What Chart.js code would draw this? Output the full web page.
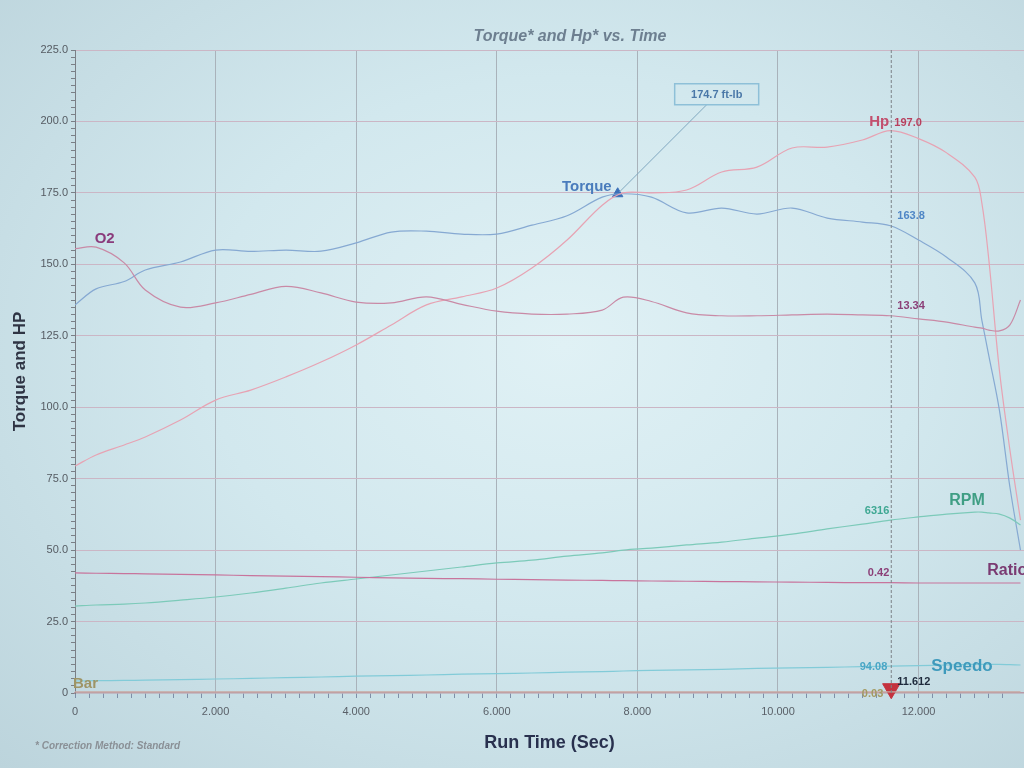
<!DOCTYPE html>
<html>
<head>
<meta charset="utf-8">
<title>Torque and Hp vs. Time</title>
<script src="https://cdn.jsdelivr.net/npm/chart.js@4.4.1/dist/chart.umd.min.js"></script>
<style>
    html, body { margin: 0; padding: 0; overflow: hidden; }
    body {
        width: 1024px;
        height: 768px;
        background: radial-gradient(ellipse at 55% 45%, #e0f1f5 0%, #d2e8ee 45%, #bcd4dc 100%);
    }
    canvas { display: block; }
</style>
</head>
<body>
<canvas id="dyno" width="1024" height="768"></canvas>
<script>
// run time (sec) shared by every trace
const timeSec = [0, 0.3, 0.7, 1.0, 1.5, 2.0, 2.5, 3.0, 3.5, 4.0, 4.5, 5.0, 5.5, 6.0, 6.5, 7.0, 7.5, 7.8,
    8.2, 8.7, 9.2, 9.7, 10.2, 10.7, 11.2, 11.6, 12.0, 12.4, 12.8, 12.9, 13.0, 13.15, 13.3, 13.45];

// traces in chart units (Torque and HP axis)
const torque = [135.8, 141.4, 144, 148, 150.8, 155, 154.5, 155, 154.6, 157.5, 161.3, 161.6, 160.6, 160.6, 163.7, 167, 173.5, 174.7,
    173.5, 168, 169.7, 167.6, 169.7, 166.2, 164.8, 163.5, 158.5, 152.5, 143.5, 130.5, 118, 99, 72, 50];
const hp = [79.4, 83.3, 86.8, 89.6, 95.5, 102.5, 106, 110.6, 115.8, 121.8, 128.8, 135.8, 138.6, 141.7, 148.7, 158.5, 170.7, 175,
    175, 176, 182.3, 184, 190.7, 191, 193.5, 196.8, 194, 189, 180.5, 171.5, 151.5, 113, 85, 60.5];
const o2 = [155.5, 156, 150.5, 141, 135, 136.5, 139.5, 142.3, 140, 136.8, 136.5, 138.6, 136, 133.6, 132.6, 132.6, 134, 138.5,
    137, 133, 132, 132, 132.3, 132.6, 132.3, 132, 130.9, 129.8, 128, 127.7, 127, 126.7, 128.8, 137.5];
const rpm = [30.4, 30.8, 31.1, 31.5, 32.5, 33.6, 35, 36.7, 38.5, 39.9, 41.3, 42.7, 44.1, 45.5, 46.5, 47.9, 49, 50,
    50.7, 51.8, 52.8, 54.2, 55.6, 57.4, 59.1, 60.5, 61.6, 62.6, 63.3, 63.3, 63, 62.6, 61.2, 58.8];
const ratio = [42.0, 41.9, 41.8, 41.7, 41.5, 41.3, 41.1, 40.9, 40.7, 40.5, 40.3, 40.1, 40.0, 39.8, 39.7, 39.5, 39.4, 39.3,
    39.2, 39.1, 39.0, 38.9, 38.8, 38.7, 38.6, 38.6, 38.5, 38.5, 38.5, 38.5, 38.5, 38.5, 38.5, 38.5];
const speedo = [4.2, 4.3, 4.4, 4.5, 4.7, 4.9, 5.1, 5.4, 5.6, 5.9, 6.1, 6.3, 6.6, 6.8, 7.0, 7.3, 7.5, 7.7,
    7.9, 8.1, 8.3, 8.6, 8.8, 9.0, 9.2, 9.4, 9.6, 9.8, 10, 10, 10, 10, 9.9, 9.8];
const bar = [0.4, 0.4, 0.4, 0.4, 0.4, 0.4, 0.4, 0.4, 0.4, 0.4, 0.4, 0.4, 0.4, 0.4, 0.4, 0.4, 0.4, 0.4,
    0.4, 0.4, 0.4, 0.4, 0.4, 0.4, 0.4, 0.4, 0.4, 0.4, 0.4, 0.4, 0.4, 0.4, 0.4, 0.4];

// peak torque marker and cursor readout
const peakTime = 7.72;
const peakTorque = 174.7;
const cursorTime = 11.612;
const cursorLabels = ['Torque', 'Hp', 'O2', 'RPM', 'Ratio', 'Speedo', 'Bar'];
const cursorValues = ['163.8', '197.0', '13.34', '6316', '0.42', '94.08', '0.03'];

// axis ticks
const yMin = 0, yMax = 225, yMajor = 25, yMinor = 2.5;
const xMin = 0, xMax = 13.5, xMajor = 2, xMinor = 0.2;

const pts = ys => timeSec.map((t, i) => ({ x: t, y: ys[i] }));
const isMajor = (v, step) => Math.abs(v / step - Math.round(v / step)) < 1e-6;

function trace(label, ys, color) {
    return {
        label, data: pts(ys), borderColor: color, borderWidth: 1.2,
        pointRadius: 0, tension: 0.35, fill: false
    };
}

// text labels sitting on the traces
const dynoLabels = {
    id: 'dynoLabels',
    afterDatasetsDraw(chart) {
        const { ctx, scales: { x, y } } = chart;
        const cx = x.getPixelForValue(cursorTime);
        const val = arr => y.getPixelForValue(arr[timeSec.indexOf(11.6)]);
        const txt = (s, px, py, color, size, align) => {
            ctx.font = 'bold ' + size + 'px "Liberation Sans", Arial, sans-serif';
            ctx.fillStyle = color;
            ctx.textAlign = align || 'left';
            ctx.textBaseline = 'middle';
            ctx.fillText(s, px, py);
        };
        ctx.save();
        // cursor readouts
        txt(cursorValues[0], cx + 6, val(torque) - 10, '#4f86c6', 11);
        txt(cursorLabels[1], cx - 2, val(hp) - 9, '#c2506e', 15, 'right');
        txt(cursorValues[1], cx + 3, val(hp) - 8, '#b8405e', 11);
        txt(cursorValues[2], cx + 6, val(o2) - 10, '#8b3f78', 11);
        txt(cursorValues[3], cx - 2, val(rpm) - 9, '#3fa893', 11, 'right');
        txt(cursorLabels[3], cx + 58, val(rpm) - 20, '#3f9e84', 16);
        txt(cursorValues[4], cx - 2, val(ratio) - 10, '#8b3f78', 11, 'right');
        txt(cursorLabels[4], cx + 96, val(ratio) - 12, '#7a3a72', 16);
        txt(cursorValues[5], cx - 4, val(speedo) + 1, '#4aa6c6', 11, 'right');
        txt(cursorLabels[5], cx + 40, val(speedo) + 0, '#3e9abc', 17);
        txt(cursorValues[6], cx - 8, y.getPixelForValue(0) + 1, '#a49a62', 11, 'right');
        txt(cursorTime.toFixed(3), cx + 6, y.getPixelForValue(0) - 11, '#1e2a3c', 11);
        // start-of-trace labels
        txt(cursorLabels[2], x.getPixelForValue(0.28), y.getPixelForValue(o2[0]) - 10, '#8a3b7c', 15);
        txt(cursorLabels[6], x.left - 2, y.getPixelForValue(bar[0]) - 8, '#9e9566', 15);
        // peak torque label + callout
        const px = x.getPixelForValue(peakTime), py = y.getPixelForValue(peakTorque);
        txt(cursorLabels[0], px - 6, py - 7, '#4a7cbc', 15, 'right');
        const bx = px + 57, by = py - 110, bw = 84, bh = 21;
        ctx.strokeStyle = '#7fa7bf';
        ctx.lineWidth = 1;
        ctx.beginPath();
        ctx.moveTo(px + 2, py - 2);
        ctx.lineTo(bx + 32, by + bh);
        ctx.stroke();
        ctx.strokeStyle = '#8ec0d8';
        ctx.lineWidth = 1.5;
        ctx.strokeRect(bx, by, bw, bh);
        txt(peakTorque.toFixed(1) + ' ft-lb', bx + bw / 2, by + bh / 2 + 1, '#4a78a8', 11, 'center');
        // title and footer
        ctx.font = 'italic bold 16px "Liberation Sans", Arial, sans-serif';
        ctx.fillStyle = '#6d7f90';
        ctx.textAlign = 'center';
        ctx.fillText('Torque* and Hp* vs. Time', 570, 37);
        ctx.font = 'italic bold 10px "Liberation Sans", Arial, sans-serif';
        ctx.fillStyle = '#8a9096';
        ctx.textAlign = 'left';
        ctx.fillText('* Correction Method: Standard', 35, 746);
        ctx.restore();
    }
};

new Chart(document.getElementById('dyno'), {
    type: 'line',
    data: {
        datasets: [
            {
                label: 'cursor', data: [{ x: cursorTime, y: yMin }, { x: cursorTime, y: yMax }],
                borderColor: '#7c8288', borderWidth: 1, borderDash: [3, 2], pointRadius: 0
            },
            trace('Bar', bar, '#c9a7a0'),
            trace('Speedo', speedo, '#82cbd8'),
            trace('Ratio', ratio, '#c8749c'),
            trace('RPM', rpm, '#7ccab9'),
            trace('O2', o2, '#c98aa6'),
            trace('Hp', hp, '#e7a3b3'),
            trace('Torque', torque, '#86a9d2'),
            {
                label: 'peak', type: 'scatter', data: [{ x: peakTime, y: peakTorque }],
                pointStyle: 'triangle', pointRadius: 6, backgroundColor: '#3c70b8', borderColor: '#3c70b8'
            },
            {
                label: 'cursorMark', type: 'scatter', data: [{ x: cursorTime, y: 1.5 }],
                pointStyle: 'triangle', rotation: 180, pointRadius: 10, clip: false,
                backgroundColor: '#c4323e', borderColor: '#c4323e'
            }
        ]
    },
    options: {
        responsive: false,
        animation: false,
        layout: { autoPadding: false, padding: { top: 50, right: 0, bottom: 0, left: 0 } },
        plugins: { legend: { display: false }, tooltip: { enabled: false }, title: { display: false } },
        scales: {
            x: {
                type: 'linear', min: xMin, max: xMax,
                afterFit: s => { s.height = 75; s.paddingRight = 0; s.paddingLeft = 0; },
                ticks: {
                    stepSize: xMinor, autoSkip: false, maxRotation: 0, padding: 7,
                    color: '#5a6068', font: { size: 11, family: '"Liberation Sans", Arial' },
                    callback: v => isMajor(v, xMajor) ? (v === 0 ? '0' : v.toFixed(3)) : ''
                },
                grid: {
                    color: c => isMajor(c.tick.value, xMajor) && c.tick.value > 0 ? '#a9b2ba' : 'rgba(0,0,0,0)',
                    tickColor: '#7e8fa8', tickLength: 5
                },
                border: { color: '#b99aa6', width: 1.5 },
                title: {
                    display: true, text: 'Run Time (Sec)', color: '#28304e',
                    font: { size: 18, weight: 'bold', family: '"Liberation Sans", Arial' },
                    padding: { top: 14, bottom: 14 }
                }
            },
            y: {
                min: yMin, max: yMax,
                afterFit: s => { s.width = 75; },
                ticks: {
                    stepSize: yMinor, autoSkip: false,
                    color: '#555b62', font: { size: 11, family: '"Liberation Sans", Arial' },
                    callback: v => isMajor(v, yMajor) ? (v === 0 ? '0' : v.toFixed(1)) : ''
                },
                grid: {
                    color: c => isMajor(c.tick.value, yMajor) && c.tick.value > 0 ? '#cbb6c5' : 'rgba(0,0,0,0)',
                    tickColor: '#7a7f86', tickLength: 4
                },
                border: { color: '#7a7f86' },
                title: {
                    display: true, text: 'Torque and HP', color: '#2f3444',
                    font: { size: 17, weight: 'bold', family: '"Liberation Sans", Arial' },
                    padding: { top: 10, bottom: 10 }
                }
            }
        }
    },
    plugins: [dynoLabels]
});
</script>
</body>
</html>
